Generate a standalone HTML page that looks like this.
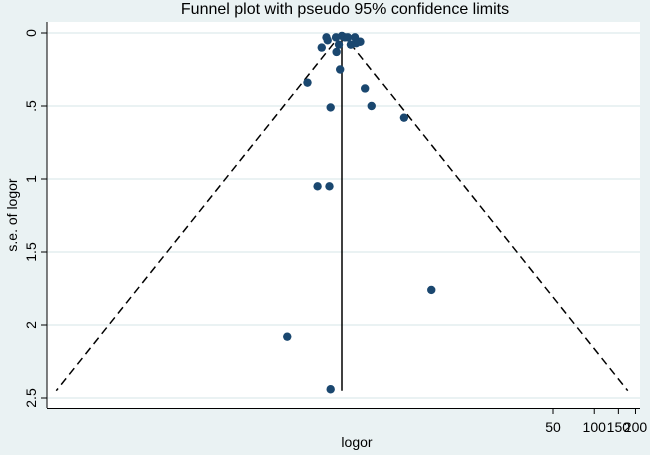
<!DOCTYPE html>
<html><head><meta charset="utf-8"><style>
body{margin:0;background:#eaf2f3;}
svg{display:block;font-family:"Liberation Sans",Arial,sans-serif;}
</style></head><body>
<svg width="650" height="455" xmlns="http://www.w3.org/2000/svg">
<rect x="0" y="0" width="650" height="455" fill="#eaf2f3"/>
<text x="345" y="14" text-anchor="middle" font-size="16" fill="#000">Funnel plot with pseudo 95% confidence limits</text>
<rect x="47" y="22" width="593" height="386" fill="#fff"/>
<g id="g"></g>
<text x="357" y="447" text-anchor="middle" font-size="14">logor</text>
<text transform="translate(17,215) rotate(-90)" text-anchor="middle" font-size="14">s.e. of logor</text>
</svg>
<script>
const pooled = 0.366;
const seTicks = [0, 0.5, 1, 1.5, 2, 2.5];
const seTickLabels = ["0", ".5", "1", "1.5", "2", "2.5"];
const xTicks = [50, 100, 150, 200];
const xTickLabels = ["50", "100", "150", "200"];
const studyLogor = [0,-0.10,0.05,-0.24,0.22,0.31,0.24,0.15,-0.05,-0.34,-0.09,-0.03,-0.58,0.39,0.50,-0.19,1.04,-0.41,-0.21,1.50,-0.92,-0.19,-0.26,0.10];
const studySe = [0.02,0.03,0.03,0.05,0.03,0.06,0.07,0.08,0.08,0.10,0.13,0.25,0.34,0.38,0.50,0.51,0.58,1.05,1.05,1.76,2.08,2.44,0.03,0.03];
const seMax = 2.45;
const NS="http://www.w3.org/2000/svg";
const g=document.getElementById('g');
const cx=342, k=59.5;
function X(ln){return cx+(ln-pooled)*k;}
function Y(se){return 33+se*146;}
function el(t,a){const e=document.createElementNS(NS,t);for(const n in a)e.setAttribute(n,a[n]);g.appendChild(e);return e;}
seTicks.forEach((s,i)=>{
  let l=el('line',{x1:47,x2:640,y1:Y(s),y2:Y(s),stroke:'#eaf2f3','stroke-width':2});
  
  
  let t=el('line',{x1:41,x2:47,y1:Y(s),y2:Y(s),stroke:'#000'});
  
  
  let tx=el('text',{transform:`translate(36,${Y(s)}) rotate(-90)`,'text-anchor':'middle','font-size':14});
  tx.textContent=seTickLabels[i];
  
  
});
let ya=el('line',{x1:47,x2:47,y1:22,y2:408,stroke:'#000'});


let xa=el('line',{x1:47,x2:640,y1:408.5,y2:408.5,stroke:'#000'});


xTicks.forEach((v,i)=>{
  const x=X(Math.log(v));
  let t=el('line',{x1:x,x2:x,y1:408,y2:414,stroke:'#000'});
  
  
  let tx=el('text',{x:x,y:432,'text-anchor':'middle','font-size':14});
  tx.textContent=xTickLabels[i];
  
  
});
const d=1.96*seMax;
let f1=el('line',{x1:X(pooled),y1:Y(0),x2:X(pooled-d),y2:Y(seMax),stroke:'#000','stroke-width':1.5,'stroke-dasharray':'8,5'});


let f2=el('line',{x1:X(pooled),y1:Y(0),x2:X(pooled+d),y2:Y(seMax),stroke:'#000','stroke-width':1.5,'stroke-dasharray':'8,5'});


let vl=el('line',{x1:X(pooled),y1:Y(0),x2:X(pooled),y2:Y(seMax),stroke:'#000','stroke-width':1.5});


studyLogor.forEach((v,i)=>{
  let c=el('circle',{cx:X(pooled+v),cy:Y(studySe[i]),r:4.2,fill:'#1a476f'});
  
  
});
</script>
</body></html>
